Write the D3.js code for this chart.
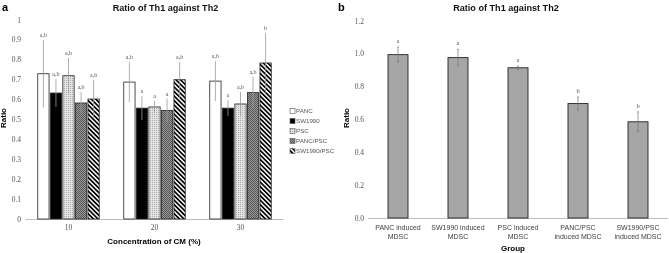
<!DOCTYPE html>
<html>
<head>
<meta charset="utf-8">
<script src="https://cdn.jsdelivr.net/npm/d3@7"></script>
<style>
  body { margin: 0; background: #fff; }
  svg { display: block; will-change: transform; }
</style>
</head>
<body>
<div id="chart"></div>
<script>
// Panel a data
const concentrations = ['10', '20', '30'];
const groupsA = ['PANC', 'SW1990', 'PSC', 'PANC/PSC', 'SW1990/PSC'];
const meansA = [
    [0.73, 0.633, 0.72, 0.583, 0.603],
    [0.688, 0.557, 0.563, 0.545, 0.70],
    [0.693, 0.557, 0.578, 0.635, 0.784]
];
const errorsA = [
    [0.17, 0.07, 0.09, 0.055, 0.095],
    [0.10, 0.06, 0.03, 0.06, 0.09],
    [0.10, 0.04, 0.06, 0.08, 0.15]
];
const lettersA = [
    ['a,b', 'a,b', 'a,b', 'a,b', 'a,b'],
    ['a,b', 'a', 'a', 'a', 'a,b'],
    ['a,b', 'a', 'a,b', 'a,b', 'b']
];
const ticksA = [0, 0.1, 0.2, 0.3, 0.4, 0.5, 0.6, 0.7, 0.8, 0.9, 1];

// Panel b data
const groupsB = [
    ['PANC induced', 'MDSC'],
    ['SW1990 induced', 'MDSC'],
    ['PSC induced', 'MDSC'],
    ['PANC/PSC', 'induced MDSC'],
    ['SW1990/PSC', 'induced MDSC']
];
const meansB = [0.995, 0.977, 0.915, 0.697, 0.586];
const errorsB = [0.045, 0.05, 0.01, 0.04, 0.06];
const lettersB = ['a', 'a', 'a', 'b', 'b'];
const ticksB = [0, 0.2, 0.4, 0.6, 0.8, 1.0, 1.2];

const d3 = window.d3;
const W = 669, H = 253;
const serif = '"Liberation Serif", "Times New Roman", serif';
const sans = '"Liberation Sans", Arial, sans-serif';

const svg = d3.select('#chart').append('svg')
    .attr('width', W).attr('height', H);

// Motifs de remplissage
const defs = svg.append('defs');
const p1 = defs.append('pattern').attr('id', 'dots').attr('patternUnits', 'userSpaceOnUse')
    .attr('width', 2).attr('height', 2);
p1.append('rect').attr('width', 2).attr('height', 2).attr('fill', '#e4e4e4');
p1.append('rect').attr('width', 1).attr('height', 1).attr('fill', '#aaa');
const p2 = defs.append('pattern').attr('id', 'checker').attr('patternUnits', 'userSpaceOnUse')
    .attr('width', 2).attr('height', 2);
p2.append('rect').attr('width', 2).attr('height', 2).attr('fill', '#999');
p2.append('rect').attr('width', 1).attr('height', 1).attr('fill', '#555');
p2.append('rect').attr('x', 1).attr('y', 1).attr('width', 1).attr('height', 1).attr('fill', '#555');
const p3 = defs.append('pattern').attr('id', 'stripes').attr('patternUnits', 'userSpaceOnUse')
    .attr('width', 3.2).attr('height', 3.2).attr('patternTransform', 'rotate(-45)');
p3.append('rect').attr('width', 3.2).attr('height', 3.2).attr('fill', '#fff');
p3.append('rect').attr('width', 1.7).attr('height', 3.2).attr('fill', '#000');

const fillsA = ['#fff', '#000', 'url(#dots)', 'url(#checker)', 'url(#stripes)'];

// ---------- Panel a ----------
const xa = d3.scaleBand().domain(concentrations).range([25.5, 283.5]).paddingInner(0).paddingOuter(0);
const xaIn = d3.scaleBand().domain(groupsA).range([0, 64]).padding(0.1);
const ya = d3.scaleLinear().domain([0, 1]).range([219, 20]);

const ga = svg.append('g');

// graduations y
ga.selectAll('.ytick').data(ticksA).enter().append('text')
    .attr('x', 21).attr('y', d => ya(d) + 2.5)
    .attr('text-anchor', 'end')
    .attr('font-family', serif).attr('font-size', 7.5).attr('fill', '#555')
    .text(d => d3.format('')(d));

// axe x
ga.append('line').attr('x1', 25.5).attr('x2', 283.5).attr('y1', 219.5).attr('y2', 219.5)
    .attr('stroke', '#bfbfbf').attr('stroke-width', 1);

ga.selectAll('.xtick').data(concentrations).enter().append('text')
    .attr('x', d => xa(d) + xa.bandwidth() / 2).attr('y', 230)
    .attr('text-anchor', 'middle')
    .attr('font-family', serif).attr('font-size', 7.5).attr('fill', '#555')
    .text(d => d);

const flatA = [];
concentrations.forEach((c, i) => groupsA.forEach((g, j) => {
    flatA.push({ c, g, j, v: meansA[i][j], e: errorsA[i][j], l: lettersA[i][j] });
}));
const offA = (xa.bandwidth() - 64) / 2;
const bx = d => xa(d.c) + offA + xaIn(d.g);

ga.selectAll('.bar').data(flatA).enter().append('rect')
    .attr('x', d => bx(d)).attr('y', d => ya(d.v))
    .attr('width', xaIn.bandwidth()).attr('height', d => ya(0) - ya(d.v))
    .attr('fill', d => fillsA[d.j])
    .attr('stroke', '#222').attr('stroke-width', 0.8);

ga.selectAll('.err').data(flatA).enter().append('line')
    .attr('x1', d => bx(d) + xaIn.bandwidth() / 2).attr('x2', d => bx(d) + xaIn.bandwidth() / 2)
    .attr('y1', d => ya(d.v - d.e)).attr('y2', d => ya(d.v + d.e))
    .attr('stroke', '#999').attr('stroke-width', 0.8);

ga.selectAll('.lbl').data(flatA).enter().append('text')
    .attr('x', d => bx(d) + xaIn.bandwidth() / 2).attr('y', d => ya(d.v + d.e) - 3)
    .attr('text-anchor', 'middle')
    .attr('font-family', serif).attr('font-size', 6).attr('fill', '#555')
    .text(d => d.l);

// légende
const lg = ga.append('g').attr('transform', 'translate(290,111)');
groupsA.forEach((g, j) => {
    lg.append('rect').attr('x', 0).attr('y', j * 10 - 2.5).attr('width', 5).attr('height', 5)
        .attr('fill', fillsA[j]).attr('stroke', '#555').attr('stroke-width', 0.6);
    lg.append('text').attr('x', 6).attr('y', j * 10 + 2.3)
        .attr('font-family', sans).attr('font-size', 6.2).attr('fill', '#555')
        .text(g);
});

// titres
svg.append('text').attr('x', 2).attr('y', 11)
    .attr('font-family', sans).attr('font-weight', 'bold').attr('font-size', 11).text('a');
ga.append('text').attr('x', 165.5).attr('y', 11).attr('text-anchor', 'middle')
    .attr('font-family', sans).attr('font-weight', 'bold').attr('font-size', 9.1).attr('fill', '#111')
    .text('Ratio of Th1 against Th2');
ga.append('text').attr('transform', 'translate(6,118) rotate(-90)').attr('text-anchor', 'middle')
    .attr('font-family', sans).attr('font-weight', 'bold').attr('font-size', 8)
    .text('Ratio');
ga.append('text').attr('x', 154).attr('y', 244).attr('text-anchor', 'middle')
    .attr('font-family', sans).attr('font-weight', 'bold').attr('font-size', 8)
    .text('Concentration of CM (%)');

// ---------- Panel b ----------
const xb = d3.scaleBand().domain(d3.range(groupsB.length)).range([368, 668]).paddingInner(2 / 3).paddingOuter(1 / 3);
const yb = d3.scaleLinear().domain([0, 1.2]).range([218, 21]);
const gb = svg.append('g');

gb.selectAll('.ytick').data(ticksB).enter().append('text')
    .attr('x', 364).attr('y', d => yb(d) + 2.5)
    .attr('text-anchor', 'end')
    .attr('font-family', serif).attr('font-size', 7.5).attr('fill', '#555')
    .text(d => d3.format('.1f')(d));

gb.append('line').attr('x1', 368).attr('x2', 668).attr('y1', 218.5).attr('y2', 218.5)
    .attr('stroke', '#bfbfbf').attr('stroke-width', 1);

gb.selectAll('.bar').data(meansB).enter().append('rect')
    .attr('x', (d, i) => xb(i)).attr('y', d => yb(d))
    .attr('width', xb.bandwidth()).attr('height', d => yb(0) - yb(d))
    .attr('fill', '#a6a6a6').attr('stroke', '#222').attr('stroke-width', 0.9);

const cx = i => xb(i) + xb.bandwidth() / 2;
meansB.forEach((v, i) => {
    const e = errorsB[i];
    gb.append('line').attr('x1', cx(i)).attr('x2', cx(i))
        .attr('y1', yb(v - e)).attr('y2', yb(v + e)).attr('stroke', '#777').attr('stroke-width', 0.7);
    [v - e, v + e].forEach(t => gb.append('line')
        .attr('x1', cx(i) - 1).attr('x2', cx(i) + 1).attr('y1', yb(t)).attr('y2', yb(t))
        .attr('stroke', '#777').attr('stroke-width', 0.7));
    gb.append('text').attr('x', cx(i)).attr('y', yb(v + e) - 4).attr('text-anchor', 'middle')
        .attr('font-family', serif).attr('font-size', 6.5).attr('fill', '#555').text(lettersB[i]);
});

groupsB.forEach((lines, i) => {
    lines.forEach((t, k) => gb.append('text')
        .attr('x', cx(i)).attr('y', 230 + k * 9).attr('text-anchor', 'middle')
        .attr('font-family', sans).attr('font-size', 7).attr('fill', '#404040').text(t));
});

svg.append('text').attr('x', 338).attr('y', 11)
    .attr('font-family', sans).attr('font-weight', 'bold').attr('font-size', 11).text('b');
gb.append('text').attr('x', 506).attr('y', 11).attr('text-anchor', 'middle')
    .attr('font-family', sans).attr('font-weight', 'bold').attr('font-size', 9.1).attr('fill', '#111')
    .text('Ratio of Th1 against Th2');
gb.append('text').attr('transform', 'translate(349,118) rotate(-90)').attr('text-anchor', 'middle')
    .attr('font-family', sans).attr('font-weight', 'bold').attr('font-size', 8)
    .text('Ratio');
gb.append('text').attr('x', 513).attr('y', 251).attr('text-anchor', 'middle')
    .attr('font-family', sans).attr('font-weight', 'bold').attr('font-size', 8)
    .text('Group');
</script>
</body>
</html>
